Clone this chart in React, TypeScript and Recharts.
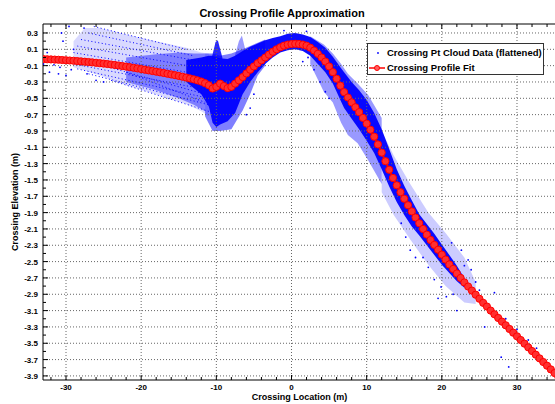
import React from 'react';
import { ComposedChart, XAxis, YAxis, Area, Line, Scatter, ReferenceLine, Legend } from 'recharts';

const FONT = "'Liberation Sans', Arial, Helvetica, sans-serif";

// axis ticks
const X_TICKS = [-30, -20, -10, 0, 10, 20, 30];
const X_MINOR = [-32, -28, -26, -24, -22, -18, -16, -14, -12, -8, -6, -4, -2, 2, 4, 6, 8, 12, 14, 16, 18, 22, 24, 26, 28, 32, 34];
const Y_TICKS = [0.3, 0.1, -0.1, -0.3, -0.5, -0.7, -0.9, -1.1, -1.3, -1.5, -1.7, -1.9, -2.1, -2.3, -2.5, -2.7, -2.9, -3.1, -3.3, -3.5, -3.7, -3.9];
const Y_MINOR = [0.2, 0, -0.2, -0.4, -0.6, -0.8, -1, -1.2, -1.4, -1.6, -1.8, -2, -2.2, -2.4, -2.6, -2.8, -3, -3.2, -3.4, -3.6, -3.8];
const X_DOMAIN: [number, number] = [-33.06, 35.19];
const Y_DOMAIN: [number, number] = [-3.95, 0.41];

// profile fit [x, elevation]
const FIT: [number, number][] = [
  [-33, -0.02], [-32.5, -0.022], [-32, -0.024], [-31.5, -0.026], [-31, -0.028], [-30.5, -0.031], [-30, -0.034],
  [-29.5, -0.037], [-29, -0.04], [-28.5, -0.044], [-28, -0.048], [-27.5, -0.052], [-27, -0.056], [-26.5, -0.06],
  [-26, -0.065], [-25.5, -0.07], [-25, -0.075], [-24.5, -0.08], [-24, -0.086], [-23.5, -0.092], [-23, -0.098],
  [-22.5, -0.105], [-22, -0.112], [-21.5, -0.119], [-21, -0.126], [-20.5, -0.134], [-20, -0.142], [-19.5, -0.15],
  [-19, -0.158], [-18.5, -0.166], [-18, -0.174], [-17.5, -0.182], [-17, -0.19], [-16.5, -0.199], [-16, -0.208],
  [-15.5, -0.217], [-15, -0.226], [-14.5, -0.236], [-14, -0.246], [-13.5, -0.257], [-13, -0.268], [-12.5, -0.281],
  [-12, -0.295], [-11.5, -0.315], [-11, -0.34], [-10.5, -0.38], [-10, -0.36], [-9.5, -0.32], [-9, -0.35],
  [-8.5, -0.375], [-8, -0.36], [-7.5, -0.32], [-7, -0.28], [-6.5, -0.24], [-6, -0.195], [-5.5, -0.15], [-5, -0.11],
  [-4.5, -0.07], [-4, -0.035], [-3.5, 0], [-3, 0.035], [-2.5, 0.07], [-2, 0.1], [-1.5, 0.125], [-1, 0.145],
  [-0.5, 0.158], [0, 0.165], [0.5, 0.168], [1, 0.165], [1.5, 0.158], [2, 0.145], [2.5, 0.12], [3, 0.085],
  [3.5, 0.045], [4, 0], [4.5, -0.05], [5, -0.11], [5.5, -0.18], [6, -0.26], [6.5, -0.345], [7, -0.425],
  [7.5, -0.49], [8, -0.55], [8.5, -0.61], [9, -0.67], [9.5, -0.74], [10, -0.81], [10.5, -0.885], [11, -0.97],
  [11.5, -1.065], [12, -1.165], [12.5, -1.27], [13, -1.375], [13.5, -1.475], [14, -1.565], [14.5, -1.65],
  [15, -1.73], [15.5, -1.81], [16, -1.885], [16.5, -1.96], [17, -2.03], [17.5, -2.1], [18, -2.17], [18.5, -2.235],
  [19, -2.295], [19.5, -2.355], [20, -2.415], [20.5, -2.475], [21, -2.535], [21.5, -2.59], [22, -2.645],
  [22.5, -2.7], [23, -2.755], [23.5, -2.805], [24, -2.855], [24.5, -2.905], [25, -2.955], [25.5, -3.005],
  [26, -3.05], [26.5, -3.1], [27, -3.145], [27.5, -3.19], [28, -3.235], [28.5, -3.28], [29, -3.325], [29.5, -3.37],
  [30, -3.415], [30.5, -3.46], [31, -3.505], [31.5, -3.55], [32, -3.595], [32.5, -3.64], [33, -3.685],
  [33.5, -3.73], [34, -3.775], [34.5, -3.82], [35, -3.865], [35.5, -3.91],
];

// point cloud envelopes [x, low, high]
const FAN: [number, number, number][] = [
  [-29, -0.12, 0.2], [-27.5, -0.16, 0.36], [-25.5, -0.22, 0.36], [-22, -0.34, 0.28], [-18, -0.45, 0.2],
  [-14, -0.57, 0.12], [-12, -0.66, 0.06], [-11, -0.72, 0.05],
];
const FAN_DENSE: [number, number, number][] = [
  [-22, -0.3, 0.0], [-18, -0.4, 0.04], [-15, -0.5, 0.06], [-13, -0.58, 0.05], [-11.5, -0.66, 0.05],
];
const BLOB: [number, number, number][] = [
  [-11.5, -0.72, 0.05], [-10.5, -0.9, 0.05], [-9.5, -0.9, 0.02], [-8, -0.88, 0.05], [-6.5, -0.65, 0.1],
  [-5.5, -0.45, 0.14], [-4.5, -0.22, 0.18], [-3.5, -0.1, 0.22],
];
const WEDGE: [number, number, number][] = [
  [2.5, -0.08, 0.26], [4.3, -0.42, 0.16], [5.5, -0.55, 0.05], [6.6, -0.8, -0.08], [7.5, -0.95, -0.2],
  [8.8, -1.05, -0.32], [10.2, -1.26, -0.46], [12, -1.55, -0.74],
];
const TAIL: [number, number, number][] = [
  [12, -1.65, -0.9], [13.6, -1.93, -1.2], [15.8, -2.23, -1.55], [18.2, -2.54, -1.9], [20.5, -2.8, -2.15],
  [23, -3.0, -2.45], [24.5, -3.02, -2.75],
];
const SPIKE_A: [number, number, number][] = [
  [-10.6, -0.02, 0], [-10.1, -0.02, 0.19], [-9.8, -0.02, 0.21], [-9.2, -0.02, 0],
];
const SPIKE_B: [number, number, number][] = [
  [-7.6, 0, 0], [-7.0, 0.02, 0.2], [-6.6, 0.05, 0.27], [-6.1, 0.08, 0.08],
];
const CORE: [number, number, number][] = [
  [-14, -0.3, -0.03], [-12, -0.45, 0], [-11, -0.6, 0.02], [-10.5, -0.8, 0.02], [-10, -0.85, 0],
  [-9.5, -0.82, -0.01], [-8.5, -0.78, -0.02], [-7.5, -0.68, 0.02], [-6.5, -0.45, 0.08], [-5.5, -0.3, 0.13],
  [-4.5, -0.18, 0.17], [-3.5, -0.08, 0.21], [-2.5, 0, 0.24], [-1.5, 0.06, 0.26], [-0.5, 0.09, 0.29],
  [0.5, 0.1, 0.3], [1.5, 0.08, 0.28], [2.5, 0.02, 0.25], [3.5, -0.08, 0.19], [4.5, -0.18, 0.12],
  [5.5, -0.32, 0.01], [6.5, -0.52, -0.12], [7, -0.62, -0.18], [8, -0.75, -0.3], [9, -0.88, -0.4],
  [10, -1.02, -0.52], [11, -1.17, -0.68], [12, -1.37, -0.88], [13, -1.58, -1.12], [14, -1.77, -1.37],
  [15, -1.93, -1.57], [16, -2.07, -1.75], [17, -2.18, -1.92], [18, -2.3, -2.04], [19, -2.42, -2.16],
  [20, -2.54, -2.29], [21, -2.64, -2.42], [22, -2.74, -2.55], [23, -2.82, -2.7],
];

// scan streaks in the fan [x1, y1, x2, y2]
const STREAKS: [number, number, number, number][] = [
  [-26.3, 0.38, -14, 0.1], [-27, 0.3, -13, 0.02], [-28, 0.22, -12, -0.05], [-28.5, 0.14, -12, -0.13],
  [-29, 0.06, -11.5, -0.22], [-29, -0.02, -11, -0.3], [-29, -0.08, -11, -0.4], [-28.5, -0.14, -11, -0.5],
  [-27, -0.2, -11, -0.58], [-24, -0.28, -11, -0.66], [-25, -0.1, -11.5, -0.45], [-22, -0.18, -11.5, -0.55],
];

// stray cloud points [x, y]
const STRAY: [number, number][] = [
  [-33, -0.08], [-32.5, 0.06], [-32.2, -0.18], [-31.8, 0], [-31.6, -0.09], [-31, -0.2], [-30.8, -0.12],
  [-30.6, 0.3], [-30.4, 0.2], [-30, -0.22], [-29.6, 0.38], [-29.3, -0.15], [-29, 0.1], [-28.3, 0.42],
  [-27.6, 0.36], [-27.2, -0.2], [-26, -0.28], [-25, -0.3],
  [-1, 0.33], [2, 0.32], [1.5, -0.05], [2.2, 0], [3, -0.15], [3.8, -0.3], [4.5, -0.42], [5, -0.5],
  [-5, -0.45], [-5.5, -0.62], [-6, -0.7],
  [14.6, -2.03], [15.2, -2.2], [15.8, -2.36], [16.5, -2.45], [17.5, -2.45], [18.2, -2.57], [19, -2.72],
  [19.5, -2.95], [19.9, -2.81], [20.6, -2.93], [21.3, -2.27], [21.5, -2.9], [22, -3.1], [22.6, -2.36],
  [23, -2.55], [23.5, -2.48], [23.9, -2.6], [24.5, -2.75], [25, -2.85], [25.7, -3.3], [26, -3.08],
  [27, -2.88], [27.9, -3.67], [28.5, -3.2], [28.9, -3.79], [30, -3.33], [31.5, -3.46], [32.6, -3.56],
];

const BANDS = [
  { key: 'fan', rows: FAN, opacity: 0.15 },
  { key: 'fanDense', rows: FAN_DENSE, opacity: 0.42 },
  { key: 'blob', rows: BLOB, opacity: 0.5 },
  { key: 'wedge', rows: WEDGE, opacity: 0.4 },
  { key: 'tail', rows: TAIL, opacity: 0.2 },
  { key: 'spikeB', rows: SPIKE_B, opacity: 0.4 },
  { key: 'spikeA', rows: SPIKE_A, opacity: 0.85 },
  { key: 'core', rows: CORE, opacity: 0.95 },
];

const table = (() => {
  const rows = new Map<number, any>();
  const put = (x: number, key: string, v: any) => {
    if (!rows.has(x)) rows.set(x, { x });
    rows.get(x)[key] = v;
  };
  BANDS.forEach(b => b.rows.forEach(([x, lo, hi]) => put(x, b.key, [lo, hi])));
  FIT.forEach(([x, y]) => put(x, 'fit', y));
  STREAKS.forEach(([x1, y1, x2, y2], i) => { put(x1, 's' + i, y1); put(x2, 's' + i, y2); });
  const out = Array.from(rows.values()).sort((a, b) => a.x - b.x);
  // range areas need an explicit empty pair where a band has no value
  out.forEach(r => BANDS.forEach(b => { if (!r[b.key]) r[b.key] = [null, null]; }));
  return out;
})();

const strayData = STRAY.map(([x, y]) => ({ x, y }));

const PLOT_TOP = 24;
const isIn = (arr: number[], v: number) => arr.some(t => Math.abs(t - v) < 1e-6);

const XTick = (props: any) => {
  const { x, y, payload } = props;
  const major = isIn(X_TICKS, payload.value);
  const len = major ? 5 : 3;
  return (
    <g>
      <line x1={x} x2={x} y1={y} y2={y - len} stroke="#000" />
      <line x1={x} x2={x} y1={PLOT_TOP} y2={PLOT_TOP + len} stroke="#000" />
      {major && (
        <text x={x} y={y + 10} textAnchor="middle" fontSize={8} fontWeight="bold" fill="#000" fontFamily={FONT}>
          {payload.value}
        </text>
      )}
    </g>
  );
};

const YTick = (props: any) => {
  const { x, y, payload } = props;
  const major = isIn(Y_TICKS, payload.value);
  const len = major ? 5 : 3;
  return (
    <g>
      <line x1={x} x2={x + len} y1={y} y2={y} stroke="#000" />
      {major && (
        <text x={x - 5} y={y + 3} textAnchor="end" fontSize={8} fontWeight="bold" fill="#000" fontFamily={FONT}>
          {Number(payload.value).toFixed(1)}
        </text>
      )}
    </g>
  );
};

const LegendBox = () => (
  <div style={{ width: 177, height: 32, boxSizing: 'border-box', border: '1px solid #333', background: '#fff', fontFamily: FONT, fontWeight: 'bold', fontSize: 9.5, color: '#000', lineHeight: '15px', paddingTop: 1 }}>
    <div style={{ display: 'flex', alignItems: 'center' }}>
      <svg width={18} height={14} style={{ marginRight: 1 }}>
        <circle cx={10} cy={7} r={0.9} fill="#0000ff" />
      </svg>
      <span>Crossing Pt Cloud Data (flattened)</span>
    </div>
    <div style={{ display: 'flex', alignItems: 'center' }}>
      <svg width={18} height={14} style={{ marginRight: 1 }}>
        <line x1={1} x2={17} y1={7} y2={7} stroke="#ff0000" strokeWidth={1.5} />
        <circle cx={9} cy={7} r={2.5} fill="#ff6060" stroke="#ff0000" strokeWidth={1} />
      </svg>
      <span>Crossing Profile Fit</span>
    </div>
  </div>
);

export default function App() {
  return (
    <div style={{ position: 'absolute', left: 0, top: 0, width: 555, height: 404, overflow: 'hidden', background: '#fff', fontFamily: FONT }}>
      <div style={{ position: 'absolute', left: 0, top: 7, width: 564, textAlign: 'center', fontSize: 11, fontWeight: 'bold', color: '#000' }}>
        Crossing Profile Approximation
      </div>
      <ComposedChart width={557} height={404} data={table} margin={{ top: 24, right: 1, bottom: 23, left: 42 }}>
        <XAxis
          type="number"
          dataKey="x"
          domain={X_DOMAIN}
          allowDataOverflow
          ticks={[...X_MINOR, ...X_TICKS].sort((a, b) => a - b)}
          interval={0}
          height={1}
          tickSize={0}
          tickMargin={0}
          tickLine={false}
          tick={XTick}
          axisLine={{ stroke: '#000' }}
          label={{ value: 'Crossing Location (m)', position: 'bottom', offset: 13, style: { fontSize: 9, fontWeight: 'bold', fill: '#000', fontFamily: FONT } }}
        />
        <YAxis
          type="number"
          domain={Y_DOMAIN}
          allowDataOverflow
          ticks={[...Y_MINOR, ...Y_TICKS].sort((a, b) => a - b)}
          interval={0}
          width={1}
          tickSize={0}
          tickMargin={0}
          tickLine={false}
          tick={YTick}
          axisLine={{ stroke: '#000' }}
          label={{ value: 'Crossing Elevation (m)', angle: -90, position: 'left', offset: 27, style: { fontSize: 9, fontWeight: 'bold', fill: '#000', fontFamily: FONT, textAnchor: 'middle' } }}
        />
        {X_TICKS.map(v => (
          <ReferenceLine key={'gx' + v} x={v} stroke="#666" strokeDasharray="1 2" />
        ))}
        {Y_TICKS.map(v => (
          <ReferenceLine key={'gy' + v} y={v} stroke="#666" strokeDasharray="1 2" />
        ))}
        <ReferenceLine y={Y_DOMAIN[1]} stroke="#000" />
        {BANDS.map(b => (
          <Area
            key={b.key}
            dataKey={b.key}
            type="linear"
            stroke="none"
            fill="#0000ff"
            fillOpacity={b.opacity}
            connectNulls
            dot={false}
            activeDot={false}
            legendType="none"
            isAnimationActive={false}
          />
        ))}
        {STREAKS.map((_, i) => (
          <Line
            key={'s' + i}
            dataKey={'s' + i}
            type="linear"
            stroke="#0000ff"
            strokeWidth={1}
            strokeDasharray="1 2.5"
            connectNulls
            dot={false}
            activeDot={false}
            legendType="none"
            isAnimationActive={false}
          />
        ))}
        <Scatter
          data={strayData}
          dataKey="y"
          fill="#0000ff"
          legendType="none"
          isAnimationActive={false}
          shape={(p: any) => <circle cx={p.cx} cy={p.cy} r={0.9} fill="#0000ff" />}
        />
        <Line
          dataKey="fit"
          type="linear"
          stroke="#ff0000"
          strokeWidth={2}
          connectNulls
          dot={{ r: 3.6, fill: '#ff3030', stroke: '#ff0000', strokeWidth: 1 }}
          activeDot={false}
          isAnimationActive={false}
        />
        <Legend
          layout="vertical"
          align="center"
          verticalAlign="middle"
          wrapperStyle={{ left: 367, top: 43, width: 177, height: 32 }}
          content={() => <LegendBox />}
        />
      </ComposedChart>
    </div>
  );
}
